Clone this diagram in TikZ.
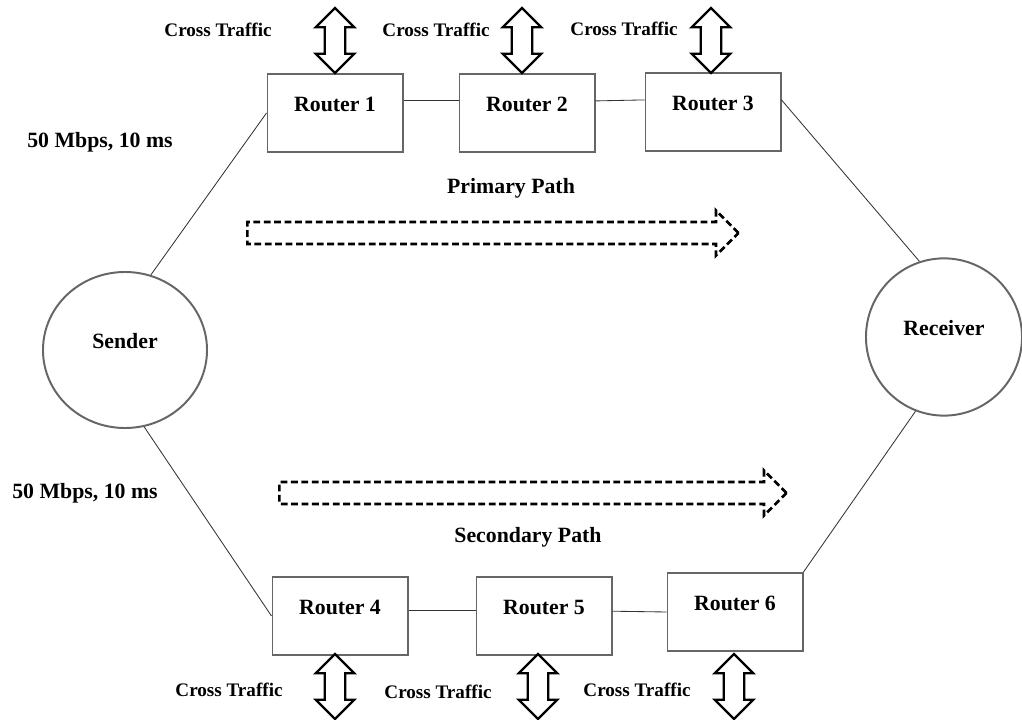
\documentclass[tikz,border=0pt]{standalone}
\usepackage{fontspec}
\setmainfont{Liberation Serif}
\usepackage{xcolor}
\definecolor{boxline}{gray}{0.4}
\definecolor{wire}{gray}{0.2}
\usetikzlibrary{shapes.geometric}
\usetikzlibrary{shapes.arrows}
\newcommand{\mainlbl}{\fontsize{15.5}{18}\selectfont\bfseries}
\newcommand{\smalllbl}{\fontsize{13.6}{16}\selectfont\bfseries}
\tikzset{
  router/.style={
    draw=boxline, line width=1.4pt, minimum width=3.375cm, minimum height=1.95cm,
    inner sep=0pt, text height=0.35cm, text depth=0.42cm, font=\mainlbl
  },
  host/.style={
    ellipse, draw=boxline, line width=1.4pt, inner sep=0pt,
    text height=0.35cm, text depth=0.42cm, font=\mainlbl
  },
  xtraffic/.style={
    double arrow, rotate=90, draw=black, line width=1.6pt, fill=white,
    minimum height=1.625cm, text height=0.46cm, text depth=0pt,
    double arrow head extend=0.225cm, inner sep=0pt
  },
  pathflow/.style={
    single arrow, draw=black, line width=1.9pt, dash pattern=on 0.17cm off 0.09cm,
    text height=0.48cm, text depth=0pt,
    single arrow head extend=0.29cm, inner sep=0pt
  },
  link/.style={draw=wire, line width=0.6pt},
  ctlabel/.style={font=\smalllbl, inner sep=0pt},
  tlabel/.style={font=\mainlbl, inner sep=0pt}
}

\begin{document}
\begin{tikzpicture}[x=0.025cm, y=-0.025cm]
    \useasboundingbox (0,0) rectangle (1022,720);

    % end hosts
    \node[host, minimum width=4.1cm, minimum height=3.9cm] (Sender) at (125,350) {Sender};
    \node[host, minimum width=3.9cm, minimum height=3.93cm] (Receiver) at (944,337) {Receiver};

    % primary routers
    \node[router] (R1) at (335,113) {Router 1};
    \node[router] (R2) at (527,113) {Router 2};
    \node[router] (R3) at (713,112) {Router 3};

    % secondary routers
    \node[router] (R4) at (340,616) {Router 4};
    \node[router] (R5) at (544,616) {Router 5};
    \node[router] (R6) at (735,612) {Router 6};

    \draw[link] (Sender.71) -- (R1.west);
    \draw[link] (R1.10) -- (R2.170);
    \draw[link] (R2.10) -- (R3.170);
    \draw[link] (R3.10) -- (Receiver.108);
    \draw[link] (Sender.-76) -- (R4.west);
    \draw[link] (R4.5) -- (R5.175);
    \draw[link] (R5.4) -- (R6.west);
    \draw[link] (Receiver.-111) -- (R6.north east);

    % cross traffic
    \node[xtraffic] (x1) at (335,40.5) {};
    \node[xtraffic] (x2) at (522,40.5) {};
    \node[xtraffic] (x3) at (711,40.5) {};
    \node[xtraffic] (x4) at (335,686.5) {};
    \node[xtraffic] (x5) at (538,686.5) {};
    \node[xtraffic] (x6) at (734,686.5) {};
    \node[ctlabel] (c1) at (218,30) {Cross Traffic};
    \node[ctlabel] (c2) at (436,30) {Cross Traffic};
    \node[ctlabel] (c3) at (624,29) {Cross Traffic};
    \node[ctlabel] (c4) at (229,690) {Cross Traffic};
    \node[ctlabel] (c5) at (438,692) {Cross Traffic};
    \node[ctlabel] (c6) at (637,690) {Cross Traffic};

    % link labels
    \node[tlabel] (bw1) at (100,142) {50 Mbps, 10 ms};
    \node[tlabel] (bw2) at (85,493) {50 Mbps, 10 ms};

    % paths
    \node[tlabel] (pp) at (511,188) {Primary Path};
    \node[pathflow, minimum height=12.275cm] (pflow) at (487.5,233) {};
    \node[pathflow, minimum height=12.675cm] (sflow) at (527.5,493) {};
    \node[tlabel] (sp) at (528,537) {Secondary Path};
\end{tikzpicture}
\end{document}
